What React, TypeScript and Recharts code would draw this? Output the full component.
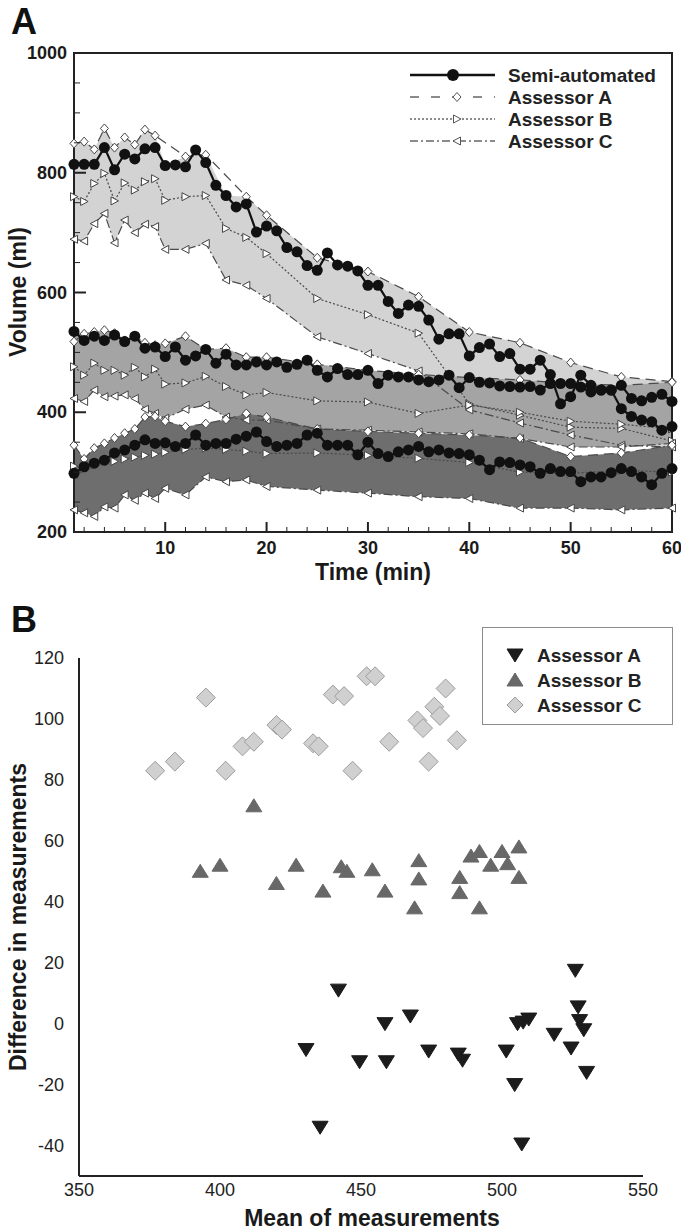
import React from 'react';
import {
  Area,
  ComposedChart,
  Legend,
  Line,
  ReferenceArea,
  Scatter,
  ScatterChart,
  XAxis,
  YAxis,
} from 'recharts';

const FONT = '"Liberation Sans", Arial, Helvetica, sans-serif';
const INK = '#1a1a1a';

// ---------- Panel A: volume over time ----------
const minutes = Array.from({ length: 60 }, (_, i) => i + 1);
const assessorMinutes = [1, 2, 3, 4, 5, 6, 7, 8, 9, 10, 12, 14, 16, 18, 20, 25, 30, 35, 40, 45, 50, 55, 60];
const timeTicks = [2, 4, 6, 8, 10, 12, 14, 16, 18, 20, 22, 24, 26, 28, 30, 32, 34, 36, 38, 40, 42, 44, 46, 48, 50, 52, 54, 56, 58, 60];
const volumeTicks = [200, 250, 300, 350, 400, 450, 500, 550, 600, 650, 700, 750, 800, 850, 900, 950, 1000];

// semi-automated, one value per minute
const semi1 = [
  814, 814, 814, 842, 805, 831, 823, 840, 842, 812,
  813, 810, 838, 817, 779, 762, 743, 748, 701, 711,
  703, 675, 668, 645, 637, 666, 646, 644, 636, 612,
  612, 585, 565, 579, 577, 554, 522, 531, 531, 494,
  508, 514, 493, 498, 472, 472, 487, 463, 414, 426,
  462, 445, 437, 437, 406, 393, 387, 384, 370, 376,
];
const semi2 = [
  535, 520, 527, 520, 529, 518, 527, 507, 509, 493,
  509, 487, 494, 505, 482, 497, 479, 479, 484, 479,
  484, 475, 480, 487, 470, 459, 473, 463, 463, 470,
  448, 462, 459, 459, 454, 451, 454, 462, 441, 458,
  450, 449, 444, 443, 442, 443, 437, 448, 448, 448,
  442, 434, 437, 437, 445, 423, 419, 425, 430, 418,
];
const semi3 = [
  298, 309, 315, 320, 332, 337, 345, 354, 348, 349,
  343, 348, 362, 345, 348, 348, 355, 360, 367, 351,
  343, 345, 348, 362, 365, 345, 345, 345, 329, 350,
  331, 326, 334, 337, 343, 334, 337, 332, 331, 329,
  320, 304, 317, 316, 312, 309, 298, 306, 301, 301,
  284, 292, 292, 299, 306, 301, 292, 279, 298, 306,
];

// assessors, at assessorMinutes
const a1 = [849, 852, 839, 874, 842, 859, 847, 872, 862, null, 827, 830, null, 760, 729, 658, 635, 593, 534, 516, 483, 459, 451];
const b1 = [760, 752, 782, 799, 753, 783, 771, 785, 790, 754, 760, 762, 707, 692, 665, 590, 563, 532, 414, 395, 375, 373, 352];
const c1 = [689, 686, 715, 732, 683, 721, 700, 714, 710, 672, 672, 682, 621, 612, 590, 526, 498, 469, 404, 382, 362, 345, 342];
const a2 = [518, 531, 534, 537, 532, 520, 527, 516, 512, 515, 527, 505, 507, 492, 492, 480, 470, 463, 458, 454, 448, 445, 450];
const b2 = [476, 462, 482, 470, 470, 462, 475, 459, 472, 447, 449, 460, 443, 429, 433, 419, 417, 398, 412, 400, 385, 380, 372];
const c2 = [423, 418, 437, 426, 427, 429, 423, 405, 398, 390, 405, 412, 392, 387, 387, 372, 370, 367, 364, 356, 342, 342, 348];
const a3 = [345, 322, 340, 348, 357, 365, 372, 392, 393, 385, 376, 381, 388, 398, 392, 372, 368, 365, 362, 357, 326, 332, 345];
const b3 = [310, 305, 312, 318, 318, 322, 325, 328, 330, 333, 338, 340, 338, 335, 331, 332, 328, 323, 316, 300, 298, 303, 300];
const c3 = [237, 232, 226, 242, 240, 262, 253, 265, 256, 273, 262, 292, 284, 287, 276, 270, 265, 259, 256, 240, 240, 237, 240];

const semiGroups = [semi1, semi2, semi3];
const assessorGroups = [[a1, b1, c1], [a2, b2, c2], [a3, b3, c3]];
const bandFills = ['#d3d3d3', '#a4a4a4', '#6e6e6e'];

const volumeRows = minutes.map((t, i) => {
  const row: Record<string, any> = { t };
  const k = assessorMinutes.indexOf(t);
  semiGroups.forEach((s, g) => {
    row[`s${g + 1}`] = s[i];
  });
  assessorGroups.forEach((grp, g) => {
    ['a', 'b', 'c'].forEach((name, n) => {
      row[`${name}${g + 1}`] = k >= 0 ? grp[n][k] : null;
    });
    // envelope of all four measurements at the assessor minutes
    const vals =
      k >= 0 ? ([...grp.map((s) => s[k]), semiGroups[g][i]].filter((v) => v != null) as number[]) : [];
    row[`band${g + 1}`] = vals.length ? [Math.min(...vals), Math.max(...vals)] : null;
  });
  return row;
});

// ---------- Panel B: difference vs mean ----------
const meanA = [430.5, 435.5, 442, 449.5, 458.5, 459, 467.5, 474, 484.5, 486, 501.5, 504.5, 505.5, 507, 507.5, 509.5, 518.5, 524.5, 526, 527, 527.5, 529, 530];
const diffA = [-8.5, -34, 11, -12.5, 0, -12.5, 2.5, -9, -10, -12, -9, -20, 0, -39.5, 0.5, 1.5, -3.5, -8, 17.5, 5.5, 1, -2, -16];
const meanB = [393, 400, 412, 420, 427, 436.5, 443, 445, 454, 458.5, 469, 470.5, 470.5, 485, 485, 489, 492, 492, 496, 500, 502, 506, 506];
const diffB = [50, 52, 71.5, 46, 52, 43.5, 51.5, 50, 50.5, 43.5, 38, 53.5, 47.5, 48, 43, 55, 56.5, 38, 52, 56.5, 52.5, 58, 48];
const meanC = [377, 384, 395, 402, 408, 412, 420, 422, 433, 435, 440, 444, 447, 452, 455, 460, 470, 472, 474, 476, 478, 480, 484];
const diffC = [83, 86, 107, 83, 91, 92.5, 98, 96.5, 92, 91, 108, 107.5, 83, 114, 114, 92.5, 99.5, 97, 86, 104, 101, 110, 93];
const meanTicks = [350, 400, 450, 500, 550];
const diffTicks = [-40, -20, 0, 20, 40, 60, 80, 100, 120];

const toPoints = (xs: number[], ys: number[]) => xs.map((x, i) => ({ x, y: ys[i] }));

// ---------- markers ----------
const empty = (p: any) => <g key={p.index} />;

const semiDot = (p: any) =>
  p.cy == null || p.value == null ? empty(p) : <circle key={p.index} cx={p.cx} cy={p.cy} r={5.5} fill="#111" />;

const diamondPath = (x: number, y: number, w: number, h: number) =>
  `M${x},${y - h}L${x + w},${y}L${x},${y + h}L${x - w},${y}Z`;
const rightTriPath = (x: number, y: number) => `M${x - 3.5},${y - 4}L${x + 4},${y}L${x - 3.5},${y + 4}Z`;
const leftTriPath = (x: number, y: number) => `M${x + 3.5},${y - 4}L${x - 4},${y}L${x + 3.5},${y + 4}Z`;

const makeDot = (pathFn: (x: number, y: number) => string) => (p: any) =>
  p.cy == null || p.value == null ? empty(p) : (
    <path key={p.index} d={pathFn(p.cx, p.cy)} fill="#fff" stroke="#444" strokeWidth={1} />
  );
const diamondDot = makeDot((x, y) => diamondPath(x, y, 4, 4.5));
const rightDot = makeDot(rightTriPath);
const leftDot = makeDot(leftTriPath);

const assessorStyles = [
  { key: 'a', dash: '10 6', dot: diamondDot },
  { key: 'b', dash: '2 2', dot: rightDot },
  { key: 'c', dash: '9 3 2 3', dot: leftDot },
];

// ---------- ticks ----------
const TimeTick = ({ x, y, payload }: any) => {
  const major = payload.value % 10 === 0;
  return (
    <g>
      <line x1={x} x2={x} y1={y} y2={y - (major ? 10 : 5)} stroke="#222" strokeWidth={major ? 2 : 1} />
      {major && (
        <text x={x} y={y + 22} textAnchor="middle" fontFamily={FONT} fontSize={18} fontWeight="bold" fill={INK}>
          {payload.value}
        </text>
      )}
    </g>
  );
};

const VolumeTick = ({ x, y, payload }: any) => {
  const major = payload.value % 200 === 0;
  return (
    <g>
      <line x1={x} x2={x + (major ? 12 : 6)} y1={y} y2={y} stroke="#222" strokeWidth={major ? 2 : 1} />
      {major && (
        <text x={x - 7} y={y + 6} textAnchor="end" fontFamily={FONT} fontSize={18} fontWeight="bold" fill={INK}>
          {payload.value}
        </text>
      )}
    </g>
  );
};

// ---------- legends ----------
const LegendA = () => {
  const rows = [
    { label: 'Semi-automated', dash: undefined, width: 2.5, color: '#111' },
    { label: 'Assessor A', dash: '9 12', width: 1.5, color: '#666' },
    { label: 'Assessor B', dash: '2 2', width: 1.5, color: '#666' },
    { label: 'Assessor C', dash: '8 3 2 3', width: 1.5, color: '#666' },
  ];
  return (
    <svg width={270} height={92}>
      {rows.map((r, i) => {
        const y = 13 + i * 22;
        return (
          <g key={r.label}>
            <line x1={5} x2={90} y1={y} y2={y} stroke={r.color} strokeWidth={r.width} strokeDasharray={r.dash} />
            {i === 0 && <circle cx={48} cy={y} r={6} fill="#111" />}
            {i === 1 && <path d={diamondPath(52, y, 4, 4.5)} fill="#fff" stroke="#555" />}
            {i === 2 && <path d={rightTriPath(52, y)} fill="#fff" stroke="#555" />}
            {i === 3 && <path d={leftTriPath(52, y)} fill="#fff" stroke="#555" />}
            <text x={103} y={y + 7} fontFamily={FONT} fontSize={19} fontWeight="bold" fill="#222">
              {r.label}
            </text>
          </g>
        );
      })}
    </svg>
  );
};

const shapeA = (x: number, y: number) => `M${x - 8},${y - 6}L${x + 8},${y - 6}L${x},${y + 7}Z`;
const shapeB = (x: number, y: number) => `M${x - 8},${y + 6}L${x + 8},${y + 6}L${x},${y - 7}Z`;
const shapeC = (x: number, y: number) => diamondPath(x, y, 9.5, 9.5);

const scatterStyles = [
  { name: 'Assessor A', path: shapeA, fill: '#1c1c1c', stroke: '#1c1c1c' },
  { name: 'Assessor B', path: shapeB, fill: '#686868', stroke: '#686868' },
  { name: 'Assessor C', path: shapeC, fill: '#d0d0d0', stroke: '#9c9c9c' },
];

const LegendB = () => (
  <div style={{ width: 191, height: 98, border: '1px solid #8c8c8c', background: '#fff', boxSizing: 'border-box' }}>
    <svg width={189} height={96}>
      {scatterStyles.map((s, i) => {
        const y = 27 + i * 25;
        return (
          <g key={s.name}>
            <path d={i === 2 ? diamondPath(32, y, 8, 8) : s.path(32, y)} fill={s.fill} stroke={s.stroke} />
            <text x={54} y={y + 7} fontFamily={FONT} fontSize={19} fontWeight="bold" fill="#222">
              {s.name}
            </text>
          </g>
        );
      })}
    </svg>
  </div>
);

const Title = ({ text, x, y, size, vertical }: { text: string; x: number; y: number; size: number; vertical?: boolean }) => (
  <div
    style={{
      position: 'absolute',
      left: x,
      top: y,
      transform: `translate(-50%, -50%)${vertical ? ' rotate(-90deg)' : ''}`,
      whiteSpace: 'nowrap',
      fontFamily: FONT,
      fontWeight: 'bold',
      fontSize: size,
      color: INK,
      lineHeight: 1,
    }}
  >
    {text}
  </div>
);

export default function App() {
  return (
    <div style={{ position: 'absolute', left: 0, top: 0, width: 681, height: 1232, background: '#fff' }}>
      <div style={{ position: 'absolute', left: 0, top: 0 }}>
        <ComposedChart width={681} height={600} data={volumeRows} margin={{ top: 53, right: 9, bottom: 28, left: 14 }}>
          <XAxis
            dataKey="t"
            type="number"
            domain={[1, 60]}
            ticks={timeTicks}
            interval={0}
            tickLine={false}
            tickSize={0}
            tickMargin={0}
            height={40}
            axisLine={{ stroke: '#222', strokeWidth: 2 }}
            tick={<TimeTick />}
          />
          <YAxis
            type="number"
            domain={[200, 1000]}
            ticks={volumeTicks}
            interval={0}
            tickLine={false}
            tickSize={0}
            tickMargin={0}
            width={60}
            axisLine={{ stroke: '#222', strokeWidth: 2 }}
            tick={<VolumeTick />}
          />
          {bandFills.map((fill, g) => (
            <Area
              key={`band${g}`}
              dataKey={`band${g + 1}`}
              type="linear"
              stroke="none"
              fill={fill}
              fillOpacity={1}
              connectNulls
              dot={false}
              activeDot={false}
              legendType="none"
              isAnimationActive={false}
            />
          ))}
          {assessorGroups.map((_, g) =>
            assessorStyles.map((s) => (
              <Line
                key={`${s.key}${g}`}
                dataKey={`${s.key}${g + 1}`}
                type="linear"
                stroke="#4a4a4a"
                strokeWidth={1.2}
                strokeDasharray={s.dash}
                connectNulls
                dot={s.dot}
                activeDot={false}
                legendType="none"
                isAnimationActive={false}
              />
            ))
          )}
          {semiGroups.map((_, g) => (
            <Line
              key={`s${g}`}
              dataKey={`s${g + 1}`}
              type="linear"
              stroke="#111"
              strokeWidth={2.2}
              dot={semiDot}
              activeDot={false}
              legendType="none"
              isAnimationActive={false}
            />
          ))}
          <ReferenceArea x1={1} x2={60} y1={200} y2={1000} fill="none" stroke="#222" strokeWidth={2} />
          <Legend
            layout="vertical"
            align="center"
            verticalAlign="middle"
            content={() => <LegendA />}
            wrapperStyle={{ position: 'absolute', left: 405, top: 62, width: 270, height: 92 }}
          />
        </ComposedChart>
      </div>

      <div style={{ position: 'absolute', left: 0, top: 580 }}>
        <ScatterChart width={681} height={652} margin={{ top: 78, right: 38, bottom: 0, left: 19 }}>
          <XAxis
            dataKey="x"
            type="number"
            domain={[350, 550]}
            ticks={meanTicks}
            interval={0}
            tickLine={false}
            tickMargin={1}
            height={56}
            axisLine={{ stroke: '#222', strokeWidth: 2 }}
            tick={{ fontFamily: FONT, fontSize: 18, fill: '#222' }}
          />
          <YAxis
            dataKey="y"
            type="number"
            domain={[-50, 120]}
            ticks={diffTicks}
            interval={0}
            tickLine={false}
            tickMargin={9}
            width={60}
            axisLine={{ stroke: '#222', strokeWidth: 2 }}
            tick={{ fontFamily: FONT, fontSize: 18, fill: '#222' }}
          />
          {[toPoints(meanA, diffA), toPoints(meanB, diffB), toPoints(meanC, diffC)].map((pts, i) => {
            const s = scatterStyles[i];
            return (
              <Scatter
                key={s.name}
                name={s.name}
                data={pts}
                legendType="none"
                isAnimationActive={false}
                shape={(p: any) => <path d={s.path(p.cx, p.cy)} fill={s.fill} stroke={s.stroke} strokeWidth={1} />}
              />
            );
          })}
          <Legend
            layout="vertical"
            align="center"
            verticalAlign="middle"
            content={() => <LegendB />}
            wrapperStyle={{ position: 'absolute', left: 482, top: 47, width: 191, height: 98 }}
          />
        </ScatterChart>
      </div>

      <div style={{ position: 'absolute', left: 11, top: 4, fontFamily: FONT, fontWeight: 'bold', fontSize: 36, color: '#111', lineHeight: 1 }}>A</div>
      <div style={{ position: 'absolute', left: 11, top: 602, fontFamily: FONT, fontWeight: 'bold', fontSize: 36, color: '#111', lineHeight: 1 }}>B</div>
      <Title text="Volume (ml)" x={18} y={292} size={23} vertical />
      <Title text="Time (min)" x={373} y={572} size={23} />
      <Title text="Difference in measurements" x={18} y={917} size={23} vertical />
      <Title text="Mean of measurements" x={372} y={1218} size={23} />
    </div>
  );
}
